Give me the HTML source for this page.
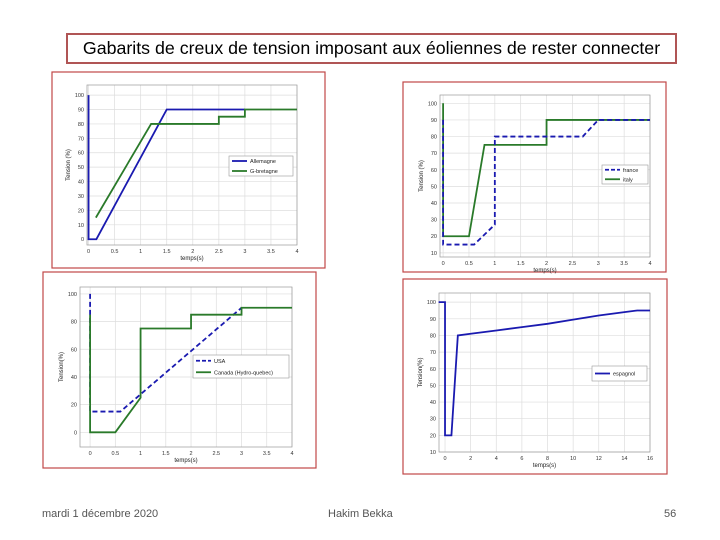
<!DOCTYPE html>
<html><head><meta charset="utf-8"><style>
body{margin:0;width:720px;height:540px;background:#fff;position:relative;overflow:hidden;font-family:"Liberation Sans",sans-serif}
#title{position:absolute;left:66px;top:33px;width:607px;height:27px;border:2px solid #b05555;font-size:17.8px;text-align:center;line-height:27px;color:#000;white-space:nowrap}
.foot{position:absolute;top:508px;font-size:11px;color:#555}
svg{position:absolute;left:0;top:0}
</style></head><body>
<div id="title">Gabarits de creux de tension imposant aux éoliennes de rester connecter</div>
<div class="foot" style="left:42px">mardi 1 décembre 2020</div>
<div class="foot" style="left:328px">Hakim Bekka</div>
<div class="foot" style="left:664px">56</div>
<svg id="s" width="720" height="540"></svg>
<script>
// Chart 1
const c1Xticks=[0,0.5,1,1.5,2,2.5,3,3.5,4];
const c1Yticks=[0,10,20,30,40,50,60,70,80,90,100];
const allemagneX=[0,0,0.15,1.5,3];
const allemagneY=[100,0,0,90,90];
const gbX=[0.14,1.2,2.5,2.5,3,3,4];
const gbY=[15,80,80,85,85,90,90];
// Chart 2
const c2Xticks=[0,0.5,1,1.5,2,2.5,3,3.5,4];
const c2Yticks=[10,20,30,40,50,60,70,80,90,100];
const franceX=[0,0,0.6,1,1,2.7,3,4];
const franceY=[90,15,15,27,80,80,90,90];
const italyX=[0,0,0.5,0.8,2,2,4];
const italyY=[100,20,20,75,75,90,90];
// Chart 3
const c3Xticks=[0,0.5,1,1.5,2,2.5,3,3.5,4];
const c3Yticks=[0,20,40,60,80,100];
const usaX=[0,0,0,0.6,3];
const usaY=[100,85,15,15,90];
const canadaX=[0,0,0.5,1,1,2,2,3,3,4];
const canadaY=[85,0,0,25,75,75,85,85,90,90];
// Chart 4
const c4Xticks=[0,2,4,6,8,10,12,14,16];
const c4Yticks=[10,20,30,40,50,60,70,80,90,100];
const espX=[-0.5,0,0,0.5,1,2,4,6,8,10,12,14,15,16];
const espY=[100,100,20,20,80,81,83,85,87,89.5,92,94,95,95];

const S=document.getElementById('s');const NS='http://www.w3.org/2000/svg';
function el(t,a,p){const e=document.createElementNS(NS,t);for(const k in a)e.setAttribute(k,a[k]);(p||S).appendChild(e);return e;}
function chart(o){
 const g=el('g',{});
 
 
 const fr=el('rect',{x:o.frame[0],y:o.frame[1],width:o.frame[2]-o.frame[0],height:o.frame[3]-o.frame[1],fill:'#fff',stroke:'#c04848','stroke-width':1.2},g);
 
 
 const [L,T,R,B]=o.plot;const [x0,x1]=o.xd,[y0,y1]=o.yd;
 const X=v=>L+(v-x0)/(x1-x0)*(R-L);const Y=v=>B-(v-y0)/(y1-y0)*(B-T);
 o.xt.forEach(v=>{const l=el('line',{x1:X(v),x2:X(v),y1:T,y2:B,stroke:'#ddd','stroke-width':0.7},g);
  
  const t=el('text',{x:X(v),y:B+8,'font-size':5.5,'text-anchor':'middle',fill:'#333'},g);t.textContent=v;
  });
 o.yt.forEach(v=>{const l=el('line',{x1:L,x2:R,y1:Y(v),y2:Y(v),stroke:'#ddd','stroke-width':0.7},g);
  
  const t=el('text',{x:L-3,y:Y(v)+2,'font-size':5.5,'text-anchor':'end',fill:'#333'},g);t.textContent=v;
  });
 const ax=el('rect',{x:L,y:T,width:R-L,height:B-T,fill:'none',stroke:'#999','stroke-width':0.7},g);
 
 const xl=el('text',{x:(L+R)/2,y:B+15,'font-size':6,'text-anchor':'middle',fill:'#222'},g);xl.textContent=o.xl;
 
 const yx=L-17,yy=(T+B)/2;
 const yl=el('text',{x:yx,y:yy,'font-size':6,'text-anchor':'middle',fill:'#222',transform:`rotate(-90 ${yx} ${yy})`},g);yl.textContent=o.yl;
 
 o.series.forEach(s=>{const p=el('polyline',{points:s.x.map((v,i)=>X(v)+','+Y(s.y[i])).join(' '),fill:'none',stroke:s.c,'stroke-width':1.8,'stroke-dasharray':s.d?'5,3':'none'},g);
  });
 const [lx0,ly0,lx1,ly1]=o.leg;
 const lg=el('rect',{x:lx0,y:ly0,width:lx1-lx0,height:ly1-ly0,fill:'#fff',stroke:'#999','stroke-width':0.6},g);
 
 const ls=o.legRev?o.series.slice().reverse():o.series;
 const n=ls.length,h=(ly1-ly0)/n;
 ls.forEach((s,i)=>{const cy=ly0+h*(i+0.5);
  const ln=el('line',{x1:lx0+3,x2:lx0+18,y1:cy,y2:cy,stroke:s.c,'stroke-width':1.8,'stroke-dasharray':s.d?'4,2':'none'},g);
  
  const t=el('text',{x:lx0+21,y:cy+2,'font-size':5.5,fill:'#222'},g);t.textContent=s.n;
  });
}
const BLUE='#1a1ab0',GREEN='#2a7a2a';
chart({name:'chart-allemagne',frame:[52,72,325,268],plot:[87,85,297,245],xd:[-0.03,4],yd:[-4,107],xt:c1Xticks,yt:c1Yticks,xl:'temps(s)',yl:'Tension (%)',leg:[229,156,293,176],
 series:[{n:'Allemagne',x:allemagneX,y:allemagneY,c:BLUE},{n:'G-bretagne',x:gbX,y:gbY,c:GREEN}]});
chart({name:'chart-france-italy',frame:[403,82,666,272],plot:[440,95,650,257],xd:[-0.06,4],yd:[7.5,105],xt:c2Xticks,yt:c2Yticks,xl:'temps(s)',yl:'Tension (%)',leg:[602,165,648,184],legRev:true,
 series:[{n:'italy',x:italyX,y:italyY,c:GREEN},{n:'france',x:franceX,y:franceY,c:BLUE,d:1}]});
chart({name:'chart-usa-canada',frame:[43,272,316,468],plot:[80,287,292,447],xd:[-0.2,4],yd:[-10.6,105],xt:c3Xticks,yt:c3Yticks,xl:'temps(s)',yl:'Tension(%)',leg:[193,355,289,378],
 series:[{n:'USA',x:usaX,y:usaY,c:BLUE,d:1},{n:'Canada (Hydro-quebec)',x:canadaX,y:canadaY,c:GREEN}]});
chart({name:'chart-espagne',frame:[403,279,667,474],plot:[439,293,650,452],xd:[-0.47,16],yd:[10,105.5],xt:c4Xticks,yt:c4Yticks,xl:'temps(s)',yl:'Tension(%)',leg:[592,366,647,381],
 series:[{n:'espagnol',x:espX,y:espY,c:BLUE}]});
</script>
</body></html>
